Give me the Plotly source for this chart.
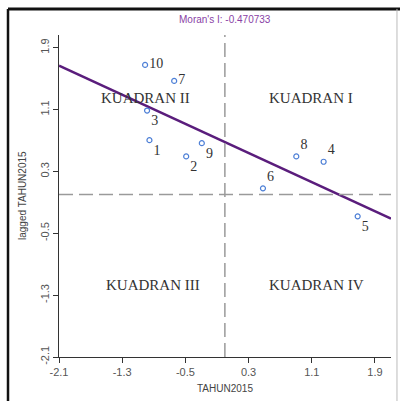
import numpy as np
import plotly.graph_objects as go

# ---- data ----
ids = ["1", "2", "3", "4", "5", "6", "7", "8", "9", "10"]
tahun2015 = [-0.955, -0.49, -0.985, 1.25, 1.681, 0.482, -0.642, 0.904, -0.292, -1.01]
lagged = [0.704, 0.494, 1.087, 0.425, -0.281, 0.081, 1.47, 0.494, 0.665, 1.677]
label_pos = ["bottom right", "bottom right", "bottom right", "top right", "bottom right",
             "top right", "middle right", "top right", "bottom right", "middle right"]
morans_i = -0.470733
tick_vals = [-2.1, -1.3, -0.5, 0.3, 1.1, 1.9]
x_range = [-2.1, 2.103]
y_range = [-2.1, 2.064]
quadrants = [("KUADRAN II", -1.01, 1.255), ("KUADRAN I", 1.094, 1.255),
             ("KUADRAN III", -0.915, -1.171), ("KUADRAN IV", 1.157, -1.171)]

x = np.array(tahun2015)
y = np.array(lagged)
intercept = y.mean() - morans_i * x.mean()
line_x = np.array(x_range)
line_y = intercept + morans_i * line_x

fig = go.Figure()

fig.add_trace(go.Scatter(
    x=line_x, y=line_y, mode="lines",
    line=dict(color="#5a1d7c", width=2.6), hoverinfo="skip", showlegend=False))

fig.add_trace(go.Scatter(
    x=tahun2015, y=lagged, mode="markers+text", text=ids,
    textposition=label_pos,
    textfont=dict(family="Liberation Serif", size=14, color="#333333"),
    marker=dict(symbol="circle-open", size=5, color="#4d7fd6", line=dict(width=1.2)),
    showlegend=False))

# mean reference lines (dashed)
fig.add_shape(type="line", xref="x", yref="paper", x0=0, x1=0, y0=0, y1=1,
              line=dict(color="#9a9a9a", width=1.5, dash="14px,6px"))
fig.add_shape(type="line", xref="paper", yref="y", x0=0, x1=1, y0=0, y1=0,
              line=dict(color="#9a9a9a", width=1.5, dash="14px,6px"))

for name, qx, qy in quadrants:
    fig.add_annotation(x=qx, y=qy, xref="x", yref="y", text=name, showarrow=False,
                       font=dict(family="Liberation Serif", size=15, color="#333333"))

# title and axis titles
fig.add_annotation(x=0.5, xref="paper", y=1.0, yref="paper", yanchor="middle", yshift=16,
                   text="Moran's I: -0.470733", showarrow=False,
                   font=dict(family="Liberation Sans", size=10, color="#8a3fa6"))
fig.add_annotation(x=0.5, xref="paper", y=0, yref="paper", yanchor="middle", yshift=-31,
                   text="TAHUN2015", showarrow=False,
                   font=dict(family="Liberation Sans", size=10, color="#444444"))
fig.add_annotation(x=0, xref="paper", y=0.5, yref="paper", xanchor="center", xshift=-37,
                   text="lagged TAHUN2015", textangle=-90, showarrow=False,
                   font=dict(family="Liberation Sans", size=10, color="#444444"))

# outer frame of the image
fig.add_shape(type="line", xref="paper", yref="paper", x0=-0.1536, x1=-0.1536, y0=-0.14, y1=1.081,
              line=dict(color="#111111", width=2.5))
fig.add_shape(type="line", xref="paper", yref="paper", x0=-0.1536, x1=1.03, y0=1.081, y1=1.081,
              line=dict(color="#111111", width=3))
fig.add_shape(type="line", xref="paper", yref="paper", x0=1.018, x1=1.018, y0=-0.14, y1=1.081,
              line=dict(color="#bbbbbb", width=1))

axis_common = dict(
    showgrid=False, zeroline=False, showline=True, linecolor="#333333", linewidth=1.2,
    ticks="outside", ticklen=5, tickcolor="#333333", tickvals=tick_vals,
    ticktext=[str(v) for v in tick_vals],
    tickfont=dict(family="Liberation Sans", size=11, color="#555555"))

fig.update_layout(
    width=400, height=401,
    margin=dict(l=59, r=9, t=35, b=44),
    paper_bgcolor="white", plot_bgcolor="white",
    xaxis=dict(range=x_range, **axis_common),
    yaxis=dict(range=y_range, tickangle=-90, **axis_common),
    showlegend=False)

fig.write_html("out.html")
